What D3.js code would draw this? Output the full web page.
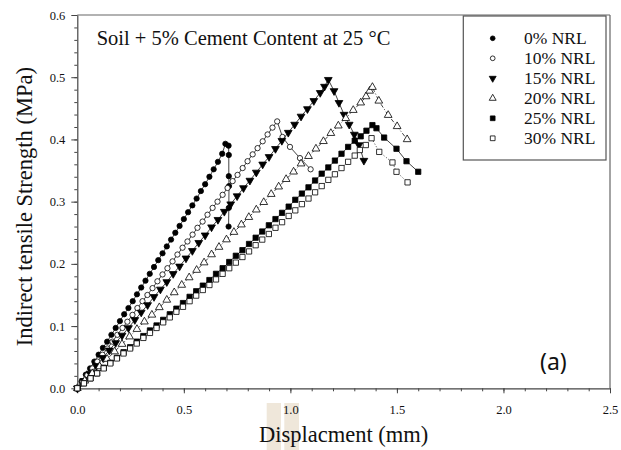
<!DOCTYPE html>
<html>
<head>
<meta charset="utf-8">
<script src="https://cdn.jsdelivr.net/npm/d3@7"></script>
<style>
  body { margin: 0; background: #fff; }
  text { font-family: "Liberation Serif", "Times New Roman", serif; fill: #111; }
</style>
</head>
<body>
<div id="chart"></div>
<script>
// series names (legend order)
const seriesNames = ['0% NRL', '10% NRL', '15% NRL', '20% NRL', '25% NRL', '30% NRL'];

// displacement (mm) / strength (MPa)
const x0 = [0.000,0.020,0.040,0.060,0.080,0.100,0.120,0.140,0.160,0.180,0.200,0.220,0.240,0.260,0.280,0.300,0.320,0.340,0.360,0.380,0.400,0.420,0.440,0.460,0.480,0.500,0.520,0.540,0.560,0.580,0.600,0.620,0.640,0.660,0.680,0.695,0.710,0.711,0.711,0.712,0.711,0.710];
const y0 = [0.000,0.011,0.022,0.032,0.043,0.054,0.065,0.075,0.086,0.097,0.108,0.119,0.129,0.140,0.151,0.162,0.173,0.184,0.195,0.206,0.217,0.228,0.239,0.250,0.261,0.272,0.283,0.294,0.305,0.317,0.328,0.340,0.352,0.364,0.377,0.393,0.390,0.375,0.341,0.325,0.290,0.260];

const x10 = [0.000,0.024,0.047,0.071,0.094,0.118,0.141,0.165,0.188,0.212,0.235,0.259,0.282,0.306,0.329,0.353,0.376,0.400,0.423,0.447,0.470,0.494,0.517,0.541,0.564,0.588,0.611,0.635,0.658,0.682,0.705,0.729,0.752,0.776,0.799,0.823,0.846,0.870,0.893,0.916,0.938,0.963,0.998,1.045,1.095];
const y10 = [0.000,0.011,0.021,0.032,0.043,0.054,0.064,0.075,0.086,0.097,0.107,0.118,0.129,0.140,0.150,0.161,0.172,0.183,0.193,0.204,0.215,0.226,0.236,0.247,0.258,0.268,0.279,0.290,0.300,0.311,0.322,0.333,0.343,0.354,0.365,0.376,0.386,0.397,0.408,0.419,0.429,0.404,0.388,0.370,0.352];

const x15 = [0.00,0.03,0.06,0.09,0.12,0.15,0.18,0.21,0.24,0.27,0.30,0.33,0.36,0.39,0.42,0.45,0.48,0.51,0.54,0.57,0.60,0.63,0.66,0.69,0.72,0.75,0.78,0.81,0.84,0.87,0.90,0.93,0.96,0.99,1.02,1.05,1.08,1.11,1.14,1.16,1.178,1.205,1.228,1.252,1.276,1.300,1.322,1.345];
const y15 = [0.000,0.012,0.024,0.036,0.049,0.061,0.073,0.085,0.097,0.110,0.122,0.134,0.147,0.159,0.171,0.184,0.196,0.209,0.221,0.234,0.246,0.259,0.271,0.284,0.296,0.309,0.322,0.334,0.347,0.360,0.372,0.385,0.398,0.411,0.424,0.437,0.449,0.462,0.475,0.485,0.496,0.478,0.459,0.440,0.424,0.408,0.391,0.366];

const x20 = [0.000,0.035,0.070,0.105,0.140,0.175,0.210,0.245,0.280,0.315,0.350,0.385,0.420,0.455,0.490,0.525,0.560,0.595,0.630,0.665,0.700,0.735,0.770,0.805,0.840,0.875,0.910,0.945,0.980,1.015,1.050,1.085,1.120,1.155,1.190,1.225,1.260,1.295,1.330,1.355,1.372,1.385,1.415,1.459,1.501,1.548];
const y20 = [0.000,0.012,0.024,0.035,0.047,0.059,0.071,0.083,0.095,0.107,0.118,0.130,0.142,0.154,0.166,0.178,0.190,0.202,0.215,0.227,0.239,0.251,0.263,0.275,0.287,0.299,0.312,0.324,0.336,0.348,0.361,0.373,0.385,0.397,0.410,0.422,0.434,0.447,0.459,0.469,0.478,0.484,0.462,0.439,0.421,0.400];

const x25 = [0.000,0.031,0.062,0.093,0.124,0.155,0.186,0.217,0.248,0.279,0.310,0.341,0.372,0.403,0.434,0.465,0.496,0.527,0.558,0.589,0.620,0.651,0.682,0.713,0.744,0.775,0.806,0.837,0.868,0.899,0.930,0.961,0.992,1.023,1.054,1.085,1.116,1.147,1.178,1.209,1.240,1.271,1.302,1.330,1.357,1.385,1.404,1.440,1.498,1.545,1.600];
const y25 = [0.000,0.008,0.016,0.024,0.033,0.041,0.049,0.058,0.066,0.075,0.084,0.093,0.101,0.110,0.119,0.128,0.137,0.147,0.156,0.165,0.174,0.184,0.193,0.203,0.213,0.222,0.232,0.242,0.252,0.262,0.272,0.282,0.292,0.303,0.313,0.323,0.334,0.345,0.355,0.366,0.377,0.388,0.398,0.405,0.414,0.423,0.418,0.403,0.385,0.365,0.348];

const x30 = [0.000,0.031,0.062,0.093,0.124,0.155,0.186,0.217,0.248,0.279,0.310,0.341,0.372,0.403,0.434,0.465,0.496,0.527,0.558,0.589,0.620,0.651,0.682,0.713,0.744,0.775,0.806,0.837,0.868,0.899,0.930,0.961,0.992,1.023,1.054,1.085,1.116,1.147,1.178,1.209,1.240,1.271,1.302,1.326,1.354,1.381,1.417,1.479,1.498,1.550];
const y30 = [0.000,0.008,0.016,0.024,0.032,0.040,0.048,0.056,0.064,0.072,0.081,0.089,0.097,0.106,0.114,0.123,0.131,0.140,0.149,0.158,0.166,0.175,0.184,0.193,0.202,0.211,0.220,0.230,0.239,0.248,0.258,0.267,0.277,0.286,0.296,0.305,0.315,0.325,0.335,0.344,0.354,0.364,0.374,0.383,0.391,0.402,0.380,0.363,0.348,0.331];

const xTicks = [0.0, 0.5, 1.0, 1.5, 2.0, 2.5];
const yTicks = [0.0, 0.1, 0.2, 0.3, 0.4, 0.5, 0.6];

const width = 621, height = 450;
const mLeft = 77.3, mRight = 610, mTop = 15, mBottom = 388.3;

const svg = d3.select('#chart').append('svg')
  .attr('width', width)
  .attr('height', height);

const x = d3.scaleLinear().domain([0, 2.5]).range([mLeft, mRight]);
const y = d3.scaleLinear().domain([0, 0.6]).range([mBottom, mTop]);

// tan highlight bands sitting under the "1.0" label
svg.append('rect').attr('x', 266.7).attr('y', 403).attr('width', 14.3).attr('height', 47).attr('fill', '#efe7da');
svg.append('rect').attr('x', 284.3).attr('y', 403).attr('width', 14.7).attr('height', 47).attr('fill', '#efe7da');

// frame (top + right)
svg.append('line').attr('x1', mLeft).attr('x2', mRight).attr('y1', mTop).attr('y2', mTop)
  .attr('stroke', '#666').attr('stroke-width', 1.2);
svg.append('line').attr('x1', mRight).attr('x2', mRight).attr('y1', mTop).attr('y2', mBottom)
  .attr('stroke', '#666').attr('stroke-width', 1.2);

// x axis, minor then major
svg.append('g').attr('transform', `translate(0,${mBottom})`)
  .call(d3.axisBottom(x).tickValues(d3.range(0, 26).map(i => i / 10)).tickSize(3).tickSizeOuter(0).tickFormat(''))
  .call(g => g.select('.domain').remove());
const gx = svg.append('g').attr('transform', `translate(0,${mBottom})`)
  .call(d3.axisBottom(x).tickValues(xTicks).tickSize(5).tickSizeOuter(0).tickPadding(12).tickFormat(d3.format('.1f')));
gx.selectAll('text').style('font-family', '"Liberation Serif", serif').style('font-size', '12.5px').attr('fill', '#111');

// y axis
svg.append('g').attr('transform', `translate(${mLeft},0)`)
  .call(d3.axisLeft(y).tickValues(d3.range(0, 31).map(i => i / 50)).tickSize(3).tickSizeOuter(0).tickFormat(''))
  .call(g => g.select('.domain').remove());
const gy = svg.append('g').attr('transform', `translate(${mLeft},0)`)
  .call(d3.axisLeft(y).tickValues(yTicks).tickSize(6).tickSizeOuter(0).tickPadding(6).tickFormat(d3.format('.1f')));
gy.selectAll('text').style('font-family', '"Liberation Serif", serif').style('font-size', '12.5px').attr('fill', '#111');

svg.selectAll('.domain').attr('stroke', '#444').attr('stroke-width', 1.2);
svg.selectAll('.tick line').attr('stroke', '#444');

// series
const series = [
  { name: seriesNames[0], xs: x0, ys: y0, shape: d3.symbolCircle, size: 22, fill: '#000', down: false, dash: null },
  { name: seriesNames[1], xs: x10, ys: y10, shape: d3.symbolCircle, size: 22, fill: '#fff', down: false, dash: null },
  { name: seriesNames[2], xs: x15, ys: y15, shape: d3.symbolTriangle, size: 26, fill: '#000', down: true, dash: null },
  { name: seriesNames[3], xs: x20, ys: y20, shape: d3.symbolTriangle, size: 26, fill: '#fff', down: false, dash: '4,2,1,2' },
  { name: seriesNames[4], xs: x25, ys: y25, shape: d3.symbolSquare, size: 28, fill: '#000', down: false, dash: null },
  { name: seriesNames[5], xs: x30, ys: y30, shape: d3.symbolSquare, size: 28, fill: '#fff', down: false, dash: '1,2' }
];

const line = d3.line().x(d => x(d[0])).y(d => y(d[1]));

series.forEach(s => {
  const pts = s.xs.map((v, i) => [v, s.ys[i]]);
  svg.append('path').datum(pts)
    .attr('d', line)
    .attr('fill', 'none')
    .attr('stroke', '#111')
    .attr('stroke-width', 0.8)
    .attr('stroke-dasharray', s.dash);
  svg.append('g').selectAll('path')
    .data(pts)
    .enter()
    .append('path')
      .attr('d', d3.symbol().type(s.shape).size(s.size))
      .attr('transform', d => `translate(${x(d[0])},${y(d[1])})` + (s.down ? ' rotate(180)' : ''))
      .attr('fill', s.fill)
      .attr('stroke', '#000')
      .attr('stroke-width', 0.8);
});

// title inside plot
svg.append('text').attr('x', 96.7).attr('y', 45).style('font-size', '20.5px')
  .text('Soil + 5% Cement Content at 25 °C');

// legend
svg.append('rect').attr('x', 463.3).attr('y', 16).attr('width', 142.7).attr('height', 144)
  .attr('fill', '#fff').attr('stroke', '#555').attr('stroke-width', 1.2);
series.forEach((s, i) => {
  const cy = 38.3 + i * 20;
  svg.append('path')
    .attr('d', d3.symbol().type(s.shape).size(s.size * 0.8))
    .attr('transform', `translate(492.7,${cy})` + (s.down ? ' rotate(180)' : ''))
    .attr('fill', s.fill).attr('stroke', '#000').attr('stroke-width', 0.8);
  svg.append('text').attr('x', 524).attr('y', cy + 6).style('font-size', '17.5px').text(s.name);
});

// axis titles
svg.append('text').attr('x', (mLeft + mRight) / 2).attr('y', 442).attr('text-anchor', 'middle')
  .style('font-size', '22.5px').text('Displacment (mm)');
svg.append('text').attr('transform', `translate(32,${206.7}) rotate(-90)`).attr('text-anchor', 'middle')
  .style('font-size', '22.5px').text('Indirect tensile Strength (MPa)');

// panel tag
svg.append('text').attr('x', 540).attr('y', 370).style('font-family', '"Noto Sans", sans-serif')
  .style('font-size', '23px').text('(a)');
</script>
</body>
</html>
